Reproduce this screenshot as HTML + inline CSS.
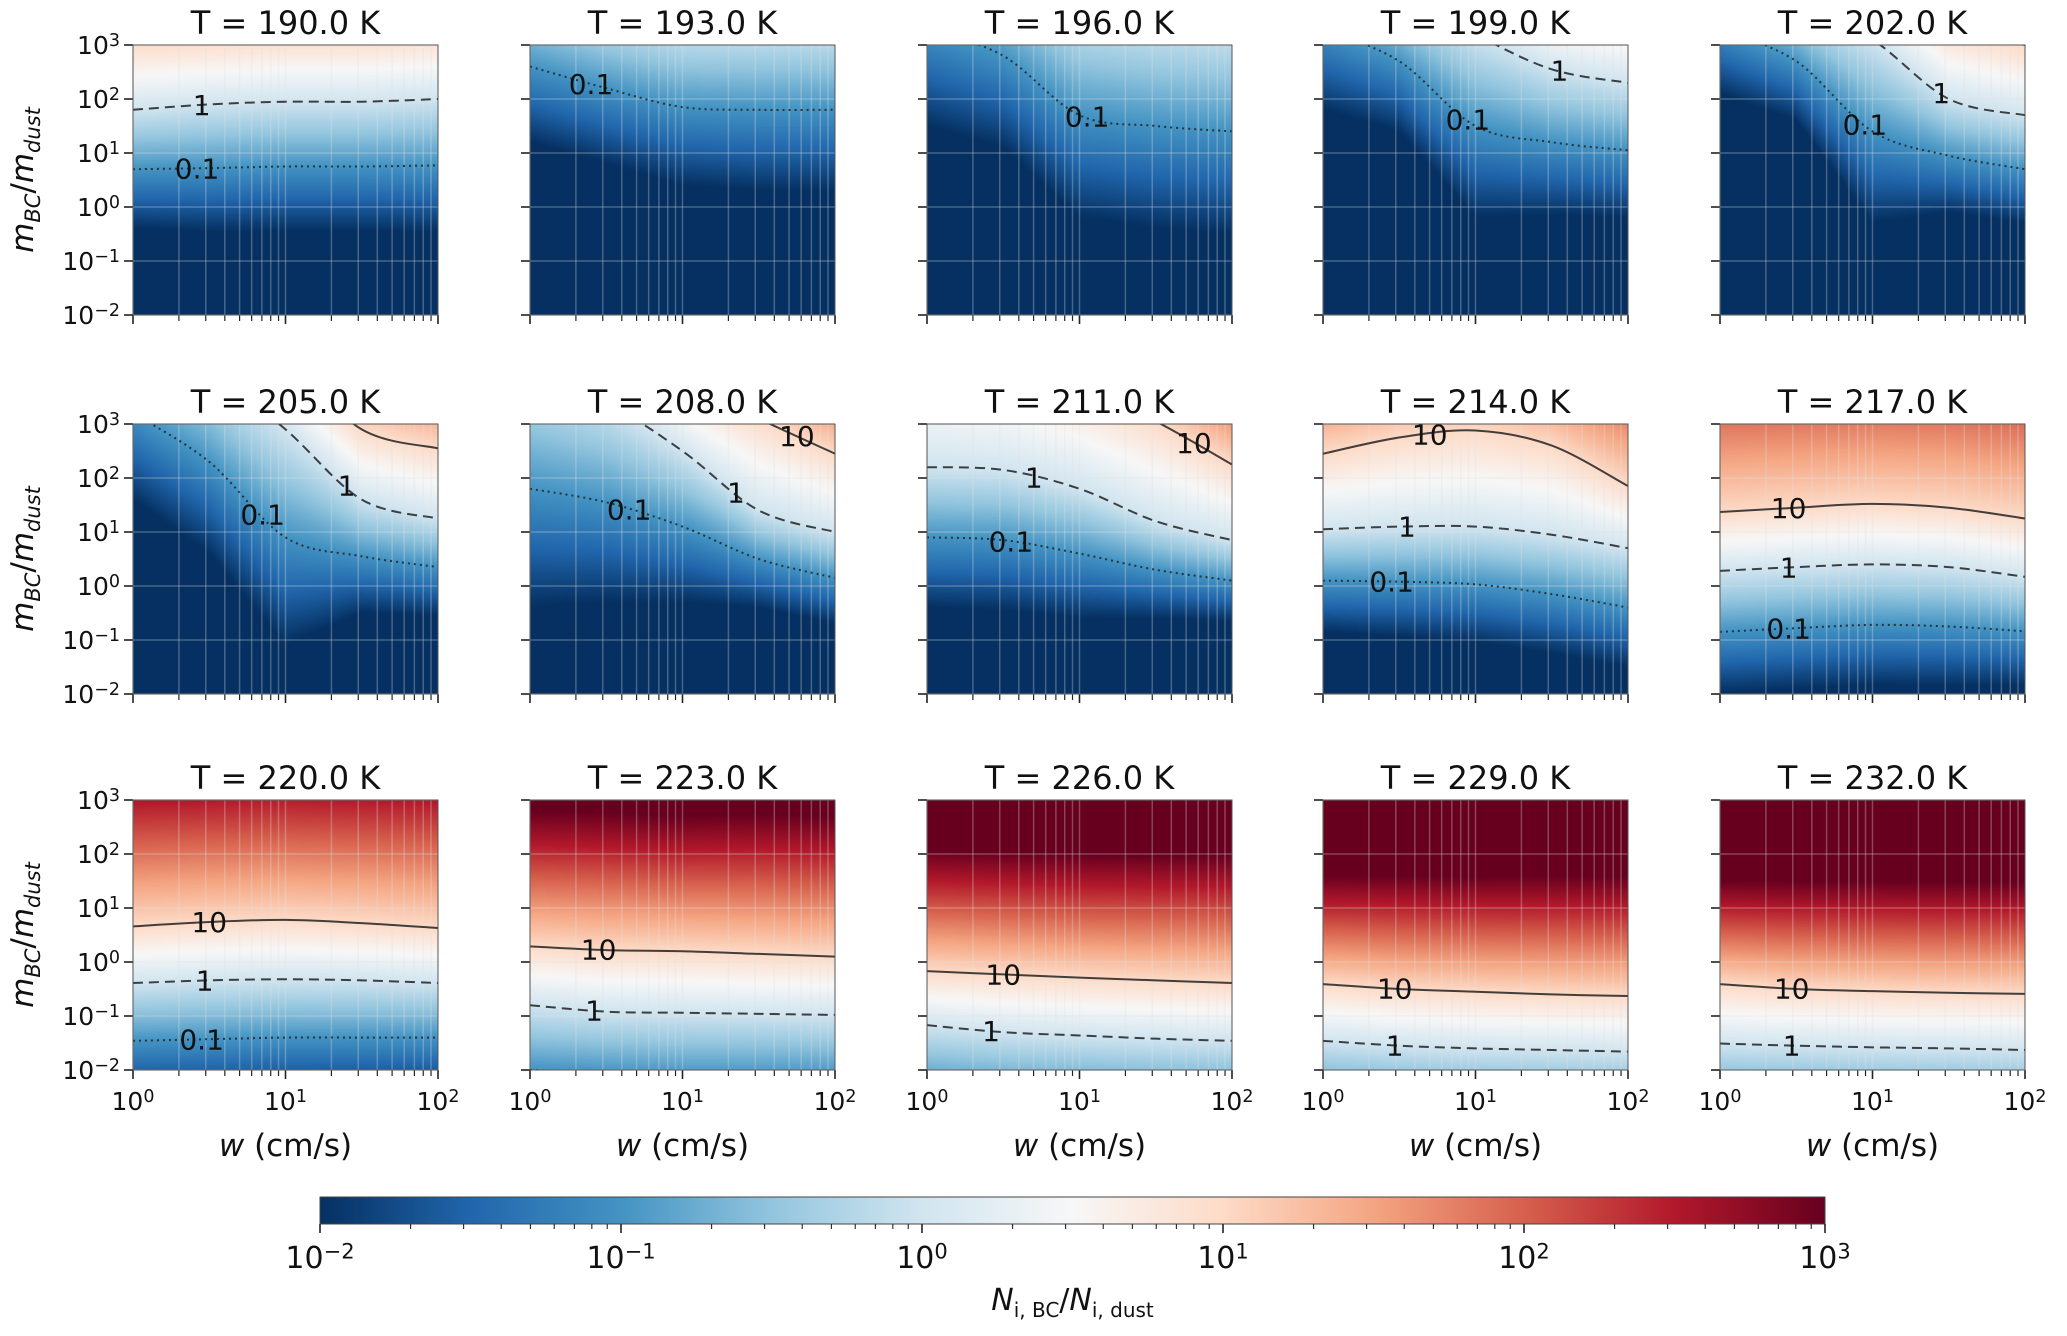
<!DOCTYPE html>
<html><head><meta charset="utf-8">
<style>
html,body{margin:0;padding:0;background:#fff;}
#wrap{position:relative;width:2067px;height:1336px;overflow:hidden;background:#fff;}
canvas{position:absolute;}
svg{position:absolute;left:0;top:0;}
text{font-family:"DejaVu Sans","Liberation Sans",sans-serif;fill:#111;}
</style></head>
<body>
<div id="wrap">
<svg id="svg" width="2067" height="1336" xmlns="http://www.w3.org/2000/svg"></svg>
</div>
<script>
// ---- data ----
const temps = [190,193,196,199,202,205,208,211,214,217,220,223,226,229,232];
const xSamples = [0,0.5,1,1.5,2]; // log10 w
// heights (log10 m_BC/m_dust) of N ratio contour levels 0.1, 1, 10, 100 at xSamples
const c01 = [
 [0.7,0.72,0.75,0.75,0.77],[2.6,2.2,1.85,1.8,1.8],[3.3,2.8,1.7,1.5,1.4],[3.3,2.7,1.5,1.2,1.05],[3.3,2.7,1.4,0.95,0.7],
 [3.2,2.3,0.9,0.55,0.35],[1.8,1.55,1.1,0.5,0.15],[0.9,0.85,0.6,0.3,0.1],[0.1,0.08,0.03,-0.15,-0.4],[-0.85,-0.78,-0.72,-0.75,-0.84],
 [-1.46,-1.43,-1.4,-1.4,-1.4],[-2.0,-2.05,-2.1,-2.1,-2.1],[-2.3,-2.4,-2.45,-2.5,-2.5],[-2.5,-2.6,-2.65,-2.65,-2.7],[-2.6,-2.62,-2.65,-2.65,-2.7]];
const c1 = [
 [1.8,1.9,1.95,1.95,2.0],[4.0,3.6,3.3,3.3,3.3],[5.1,4.5,3.6,3.4,3.3],[4.8,4.0,3.2,2.55,2.3],[4.5,3.8,3.1,2.0,1.7],
 [4.8,4.0,2.9,1.6,1.25],[4.0,3.4,2.5,1.4,1.0],[2.2,2.15,1.8,1.2,0.85],[1.05,1.1,1.1,0.95,0.7],[0.28,0.35,0.4,0.35,0.17],
 [-0.39,-0.34,-0.32,-0.34,-0.39],[-0.8,-0.92,-0.94,-0.96,-0.98],[-1.17,-1.3,-1.36,-1.42,-1.46],[-1.46,-1.55,-1.6,-1.63,-1.66],[-1.51,-1.55,-1.58,-1.6,-1.63]];
const c10 = [
 [3.05,3.1,3.15,3.15,3.2],[5.2,4.8,4.5,4.5,4.5],[6.3,5.7,4.8,4.6,4.5],[6.1,5.3,4.5,3.85,3.6],[5.8,5.1,4.4,3.3,3.0],
 [6.1,5.3,4.2,2.9,2.55],[5.0,4.5,3.8,3.1,2.45],[4.5,4.2,3.7,3.05,2.25],[2.45,2.75,2.88,2.6,1.85],[1.37,1.45,1.52,1.45,1.25],
 [0.66,0.74,0.78,0.72,0.63],[0.29,0.22,0.2,0.15,0.1],[-0.17,-0.23,-0.29,-0.34,-0.39],[-0.41,-0.5,-0.55,-0.6,-0.63],[-0.41,-0.5,-0.54,-0.57,-0.59]];
const c100 = [
 [4.4,4.5,4.5,4.5,4.6],[6.5,6.1,5.8,5.8,5.8],[7.6,7.0,6.1,5.9,5.8],[7.4,6.6,5.8,5.2,4.9],[7.1,6.4,5.7,4.6,4.3],
 [7.4,6.6,5.5,4.2,3.9],[6.3,5.8,5.1,4.4,3.8],[5.8,5.5,5.0,4.4,3.6],[4.0,4.3,4.4,4.1,3.5],[3.3,3.35,3.4,3.35,3.2],
 [2.2,2.25,2.3,2.25,2.2],[1.55,1.5,1.45,1.45,1.4],[0.95,0.9,0.85,0.82,0.8],[0.6,0.55,0.52,0.5,0.48],[0.55,0.5,0.48,0.46,0.45]];
// label positions (log10 w) for levels 0.1, 1, 10
const labX = [
 [0.42,0.45,0],[0.4,0,0],[1.05,0,0],[0.95,1.55,0],[0.95,1.45,0],
 [0.85,1.4,0],[0.65,1.35,1.75],[0.55,0.7,1.75],[0.45,0.55,0.7],[0.45,0.45,0.45],
 [0.45,0.47,0.5],[0,0.42,0.45],[0,0.42,0.5],[0,0.47,0.47],[0,0.47,0.47]];
const levelNames = ['0.1','1','10'];
const cbTicks = [-2,-1,0,1,2,3];
const yTicks = [-2,-1,0,1,2,3];
const xTicks = [0,1,2];

// ---- layout ----
const colLeft=[133,530,927,1323,1720], rowTop=[45,424,800], PW=305, PH=270;
const X0=0,X1=2,Y0=-2,Y1=3, V0=-2, V1=3;
const NS='http://www.w3.org/2000/svg';
const svg=document.getElementById('svg');
function mk(tag,attrs,parent){const e=document.createElementNS(NS,tag);for(const k in attrs)e.setAttribute(k,attrs[k]);(parent||svg).appendChild(e);return e;}

// RdBu_r
const cmap=[[5,48,97],[33,102,172],[67,147,195],[146,197,222],[209,229,240],[247,247,247],[253,219,199],[244,165,130],[214,96,77],[178,24,43],[103,0,31]];
function color(t){t=Math.max(0,Math.min(1,t));const f=t*10;const i=Math.min(9,Math.floor(f));const u=f-i;const a=cmap[i],b=cmap[i+1];return [a[0]+(b[0]-a[0])*u,a[1]+(b[1]-a[1])*u,a[2]+(b[2]-a[2])*u];}
function interp(arr,x){for(let i=0;i<xSamples.length-1;i++){if(x<=xSamples[i+1]){const u=(x-xSamples[i])/(xSamples[i+1]-xSamples[i]);return arr[i]+(arr[i+1]-arr[i])*u;}}return arr[arr.length-1];}
function logN(p,x,y){
  const h=[interp(c01[p],x),interp(c1[p],x),interp(c10[p],x),interp(c100[p],x)];
  if(y<h[0]) return -1+(y-h[0])/Math.max(0.3,h[1]-h[0]);
  for(let i=0;i<3;i++) if(y<h[i+1]) return (i-1)+(y-h[i])/(h[i+1]-h[i]);
  return 2+(y-h[3])/Math.max(0.3,h[3]-h[2]);
}

function sup(parent,base,exp,attrs){
  const t=mk('text',attrs,parent);
  const b=document.createElementNS(NS,'tspan');b.textContent=base;t.appendChild(b);
  const s=document.createElementNS(NS,'tspan');s.setAttribute('dy','-0.45em');s.setAttribute('font-size','0.7em');s.textContent=exp;t.appendChild(s);
  return t;
}
const expStr=v=>v<0?'\u2212'+(-v):''+v;

const wrap=document.getElementById('wrap');
const defs=mk('defs',{});
for(let p=0;p<15;p++){
  const r=Math.floor(p/5),c=p%5;
  const L=colLeft[c],T=rowTop[r];
  const sx=v=>L+(v-X0)/(X1-X0)*PW, sy=v=>T+PH-(v-Y0)/(Y1-Y0)*PH;
  const cv=document.createElement('canvas');
  
  
  cv.width=PW;cv.height=PH;cv.style.left=L+'px';cv.style.top=T+'px';
  wrap.insertBefore(cv,svg);
  const ctx=cv.getContext('2d');const img=ctx.createImageData(PW,PH);
  for(let j=0;j<PH;j++){const y=Y1-(j+0.5)/PH*(Y1-Y0);
    for(let i=0;i<PW;i++){const x=X0+(i+0.5)/PW*(X1-X0);
      const col=color((logN(p,x,y)-V0)/(V1-V0));const k=(j*PW+i)*4;
      img.data[k]=col[0];img.data[k+1]=col[1];img.data[k+2]=col[2];img.data[k+3]=255;}}
  ctx.putImageData(img,0,0);
  const g=mk('g',{});
  
  
  for(let d=0;d<2;d++)for(let k=1;k<=9;k++){const xv=d+Math.log10(k);const gx=sx(xv);
    const ln=mk('line',{x1:gx,x2:gx,y1:T,y2:T+PH,stroke:'rgba(225,225,225,0.3)','stroke-width':1.5},g);
    
    const big=(k===1);
    mk('line',{x1:gx,x2:gx,y1:T+PH,y2:T+PH+(big?9:6),stroke:'#222','stroke-width':big?1.6:1.2},g);
  }
  mk('line',{x1:sx(2),x2:sx(2),y1:T+PH,y2:T+PH+9,stroke:'#222','stroke-width':1.6},g);
  yTicks.forEach(v=>{const gy=sy(v);
    const ln=mk('line',{x1:L,x2:L+PW,y1:gy,y2:gy,stroke:'rgba(225,225,225,0.3)','stroke-width':1.5},g);
    
    mk('line',{x1:L-9,x2:L,y1:gy,y2:gy,stroke:'#222','stroke-width':1.6},g);
    if(c===0){const t=sup(g,'10',expStr(v),{x:L-13,y:gy+9,'text-anchor':'end','font-size':25});
      }
  });
  if(r===2) xTicks.forEach(v=>{const t=sup(g,'10',expStr(v),{x:sx(v),y:T+PH+40,'text-anchor':'middle','font-size':25});
    });
  const cid='clip'+p;const cp=mk('clipPath',{id:cid},defs);mk('rect',{x:L,y:T,width:PW,height:PH},cp);
  const cg=mk('g',{'clip-path':'url(#'+cid+')'},g);
  [c01,c1,c10].forEach((arr,li)=>{
    const sp=xSamples.map((x,i)=>[sx(x),sy(arr[p][i])]);
    let d='M'+sp[0][0]+','+sp[0][1];
    for(let i=0;i<sp.length-1;i++){const p0=sp[Math.max(0,i-1)],p1=sp[i],p2=sp[i+1],p3=sp[Math.min(sp.length-1,i+2)];
      d+=' C'+(p1[0]+(p2[0]-p0[0])/6)+','+(p1[1]+(p2[1]-p0[1])/6)+' '+(p2[0]-(p3[0]-p1[0])/6)+','+(p2[1]-(p3[1]-p1[1])/6)+' '+p2[0]+','+p2[1];}
    const dash=li===0?'2,4':(li===1?'10,6':'none');
    const path=mk('path',{d:d,fill:'none',stroke:'#222','stroke-width':2,'stroke-dasharray':dash,'stroke-opacity':0.85},cg);
    
    
    const lx=labX[p][li];const ly=interp(arr[p],lx);
    if(ly>Y0+0.05&&ly<Y1-0.05){
      const t=mk('text',{x:sx(lx),y:sy(ly)+10,'text-anchor':'middle','font-size':28,fill:'#111'},g);
      t.textContent=levelNames[li];
      
    }
  });
  mk('rect',{x:L,y:T,width:PW,height:PH,fill:'none',stroke:'#555','stroke-width':1},g);
  const tt=mk('text',{x:L+PW/2,y:T-11,'text-anchor':'middle','font-size':32},g);
  tt.textContent='T = '+temps[p].toFixed(1)+' K';
  
  if(r===2){const xl=mk('text',{x:L+PW/2,y:T+PH+86,'text-anchor':'middle','font-size':31},g);
    xl.innerHTML='<tspan font-style="italic">w</tspan> (cm/s)';
    }
  if(c===0){const yl=mk('text',{transform:'translate(33,'+(T+PH/2)+') rotate(-90)','text-anchor':'middle','font-size':31},g);
    yl.innerHTML='<tspan font-style="italic">m</tspan><tspan font-style="italic" font-size="21" dy="7">BC</tspan><tspan dy="-7">/</tspan><tspan font-style="italic">m</tspan><tspan font-style="italic" font-size="21" dy="7">dust</tspan>';
    }
}
// colorbar
const CBL=320,CBR=1825,CBT=1197,CBB=1224;
const lg=mk('linearGradient',{id:'cbg',x1:0,x2:1,y1:0,y2:0},defs);
cmap.forEach((c,i)=>mk('stop',{offset:i/10,'stop-color':'rgb('+c.join(',')+')'},lg));
const cb=mk('rect',{x:CBL,y:CBT,width:CBR-CBL,height:CBB-CBT,fill:'url(#cbg)',stroke:'#444','stroke-width':1});

const cx=v=>CBL+(v-V0)/(V1-V0)*(CBR-CBL);
cbTicks.forEach(v=>{
  mk('line',{x1:cx(v),x2:cx(v),y1:CBB,y2:CBB+9,stroke:'#222','stroke-width':1.6});
  if(v<V1)for(let k=2;k<=9;k++){const mx=cx(v+Math.log10(k));mk('line',{x1:mx,x2:mx,y1:CBB,y2:CBB+5,stroke:'#222','stroke-width':1.1});}
  const t=sup(svg,'10',expStr(v),{x:cx(v),y:CBB+44,'text-anchor':'middle','font-size':30});
  
});
const cl=mk('text',{x:(CBL+CBR)/2,y:1310,'text-anchor':'middle','font-size':30});
cl.innerHTML='<tspan font-style="italic">N</tspan><tspan font-size="20" dy="7">i, BC</tspan><tspan dy="-7">/</tspan><tspan font-style="italic">N</tspan><tspan font-size="20" dy="7">i, dust</tspan>';

</script>
</body></html>
